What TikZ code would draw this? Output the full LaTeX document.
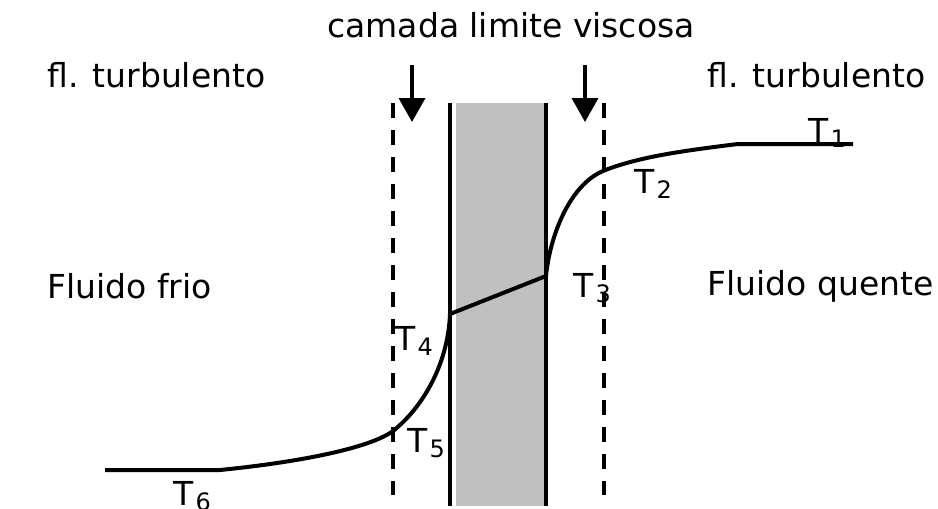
\documentclass[tikz,border=0pt]{standalone}
\usepackage{fontspec}
\setmainfont{DejaVu Sans}
\usepackage{tikz}
\usetikzlibrary{arrows.meta}
\definecolor{WallGrey}{RGB}{192,192,192}
\newcommand{\Tlab}[1]{T\kern1pt\raisebox{-2.5pt}{\fontsize{12}{12}\selectfont #1}}

\begin{document}
\begin{tikzpicture}[
x=0.5pt, y=-0.5pt,
font=\fontsize{16.5}{20}\selectfont,
lbl/.style={anchor=base west, inner sep=0pt},
profile/.style={line width=2pt, line join=round},
wall/.style={line width=1.7pt},
layer/.style={line width=1.8pt, dash pattern=on 7.5pt off 6pt},
flow/.style={-{Triangle[width=13pt,length=12pt]}, line width=1.8pt}
]
\useasboundingbox (0,0) rectangle (938,509);

\fill[WallGrey] (456,103) rectangle (544,506);
\draw[wall] (450,103) -- (450,506);
\draw[wall] (546,103) -- (546,506);
\draw[layer] (393,103) -- (393,495);
\draw[layer] (604,103) -- (604,495);

\coordinate (fl1) at (412,65);
\coordinate (fl1e) at (412,122);
\coordinate (fl2) at (585,65);
\coordinate (fl2e) at (585,122);
\draw[flow] (fl1) -- (fl1e);
\draw[flow] (fl2) -- (fl2e);

\coordinate (t6a) at (105,470);
\coordinate (t6b) at (220,470);
\coordinate (t5) at (393,431);
\coordinate (t4) at (450,314);
\coordinate (t3) at (546,276);
\coordinate (t2) at (603,171);
\coordinate (t1a) at (738,144);
\coordinate (t1b) at (853,144);
\draw[profile] (t6a) -- (t6b) .. controls (300,462) and (370,448) .. (t5)
  .. controls (422,408) and (448,365) .. (t4) -- (t3)
  .. controls (550,235) and (570,185) .. (t2)
  .. controls (640,156) and (690,150) .. (t1a) -- (t1b);

\node[lbl, anchor=base] (camada) at (511,37) {camada limite viscosa};
\node[lbl] (turbE) at (47,87) {fl. turbulento};
\node[lbl] (turbD) at (707,87) {fl. turbulento};
\node[lbl] (frio) at (47,298) {Fluido frio};
\node[lbl] (quente) at (707,295) {Fluido quente};

\node[lbl] (lT1) at (808,142) {\Tlab{1}};
\node[lbl] (lT2) at (634,193) {\Tlab{2}};
\node[lbl] (lT3) at (573,297) {\Tlab{3}};
\node[lbl] (lT4) at (395,350) {\Tlab{4}};
\node[lbl] (lT5) at (407,452) {\Tlab{5}};
\node[lbl] (lT6) at (173,505) {\Tlab{6}};
\end{tikzpicture}
\end{document}
